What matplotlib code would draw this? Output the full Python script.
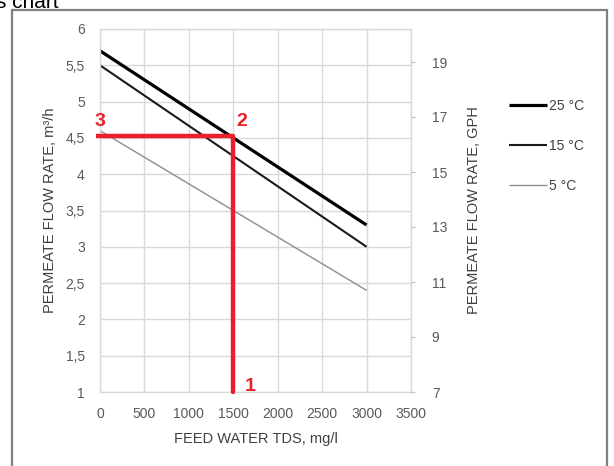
import matplotlib.pyplot as plt
from matplotlib.patches import Rectangle
from matplotlib.ticker import FuncFormatter

# feed water TDS (mg/l) and permeate flow (m3/h) at each temperature
tds = [0, 3000]
flow_25 = [5.7, 3.3]
flow_15 = [5.5, 3.0]
flow_5 = [4.6, 2.4]
temps = ['25 °C', '15 °C', '5 °C']

# reading example: 1 -> 2 -> 3
tds_point = 1500
flow_point = 4.52

x_ticks = [0, 500, 1000, 1500, 2000, 2500, 3000, 3500]
y_ticks = [1, 1.5, 2, 2.5, 3, 3.5, 4, 4.5, 5, 5.5, 6]
gph_ticks = [7, 9, 11, 13, 15, 17, 19]

plt.rcParams['font.family'] = ['Liberation Sans', 'DejaVu Sans']
tick_col = '#595959'
grid_col = '#d9d9d9'
red = '#e8202a'


def comma(v, pos):
    return f'{v:g}'.replace('.', ',')


def main():
    fig = plt.figure(figsize=(6.14, 4.66), dpi=100)
    ax = fig.add_axes([100 / 614, 1 - 392 / 466, 311 / 614, 363 / 466])

    l25, = ax.plot(tds, flow_25, color='black', lw=2.3, solid_capstyle='butt')
    l15, = ax.plot(tds, flow_15, color='#1a1a1a', lw=1.5, solid_capstyle='butt')
    l5, = ax.plot(tds, flow_5, color='#8c8c8c', lw=1.0, solid_capstyle='butt')

    # red guide lines
    ax.plot([tds_point, tds_point], [1, flow_point], color=red, lw=3.2,
            solid_capstyle='round', clip_on=False, zorder=5)
    ax.plot([-40, tds_point], [flow_point, flow_point], color=red, lw=3.2,
            solid_capstyle='butt', clip_on=False, zorder=5)
    ax.text(1690, 1.08, '1', color=red, fontsize=14, fontweight='bold',
            ha='center', va='center', clip_on=False, zorder=6)
    ax.text(1600, 4.73, '2', color=red, fontsize=14, fontweight='bold',
            ha='center', va='center', clip_on=False, zorder=6)
    ax.text(0, 4.73, '3', color=red, fontsize=14, fontweight='bold',
            ha='center', va='center', clip_on=False, zorder=6)

    ax.set_xlim(0, 3500)
    ax.set_ylim(1, 6)
    ax.set_xticks(x_ticks)
    ax.set_yticks(y_ticks)
    ax.yaxis.set_major_formatter(FuncFormatter(comma))
    ax.grid(True, color=grid_col, lw=1.0)
    ax.set_axisbelow(True)
    ax.tick_params(length=0, labelsize=10, labelcolor=tick_col, pad=11)
    for s in ax.spines.values():
        s.set_color(grid_col)
        s.set_linewidth(1.0)
    ax.set_xlabel('FEED WATER TDS, mg/l', fontsize=10.5, color='#404040', labelpad=8)
    ax.set_ylabel('PERMEATE FLOW RATE, m³/h', fontsize=10.5, color='#404040', labelpad=6)

    ax2 = ax.twinx()
    ax2.set_ylim(7, 20.2)
    ax2.set_yticks(gph_ticks)
    ax2.tick_params(length=3, color='#bfbfbf', labelsize=10, labelcolor=tick_col, pad=12)
    for s in ax2.spines.values():
        s.set_visible(False)
    ax2.set_ylabel('PERMEATE FLOW RATE, GPH', fontsize=10.5, color='#404040', labelpad=14)

    leg = fig.legend([l25, l15, l5], temps, loc='upper left',
                     bbox_to_anchor=(496 / 614, 1 - 86 / 466), frameon=False,
                     fontsize=10, handlelength=2.8, handletextpad=0.1,
                     labelspacing=1.9)
    for t in leg.get_texts():
        t.set_color('#404040')

    # outer frame and clipped title
    fig.patches.append(Rectangle((12 / 614, -0.1), 595 / 614, 1.1 - 10 / 466,
                                 transform=fig.transFigure, fill=False,
                                 edgecolor='#808080', lw=1.6))
    fig.text(-0.006, 1 - 8 / 466, 's chart', fontsize=15, va='baseline', color='black')

    fig.savefig('out.png', dpi=100)


if __name__ == '__main__':
    main()
